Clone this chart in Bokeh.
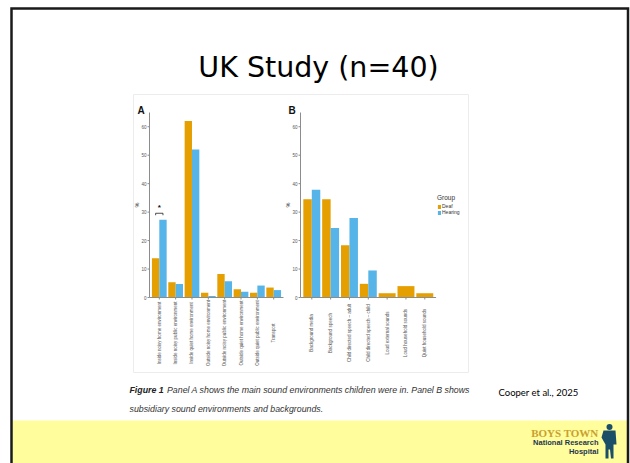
import math
from bokeh.plotting import figure
from bokeh.models import Range1d, Legend, LegendItem, ColumnDataSource
from bokeh.core.properties import value
from bokeh.embed import file_html
from bokeh.resources import INLINE

# ---------------- data ----------------
slide_title = "UK Study (n=40)"
groups = ["Deaf", "Hearing"]
group_colors = ["#E69F00", "#56B4E9"]

cats_a = ["Inside noisy home environment", "Inside noisy public environment",
          "Inside quiet home environment", "Outside noisy home environment",
          "Outside noisy public environment", "Outside quiet home environment",
          "Outside quiet public environment", "Transport"]
deaf_a = [13.8, 5.4, 62.0, 1.7, 8.3, 2.9, 1.7, 3.5]
hear_a = [27.3, 4.7, 52.0, 0.5, 5.7, 2.0, 4.2, 2.6]

cats_b = ["Background media", "Background speech", "Child directed speech \u2013 adult",
          "Child directed speech \u2013 child", "Loud external sounds",
          "Loud household sounds", "Quiet household sounds"]
deaf_b = [34.5, 34.5, 18.4, 4.8, 1.5, 4.0, 1.5]
hear_b = [37.9, 24.4, 27.9, 9.5, None, None, None]

y_ticks = [0, 10, 20, 30, 40, 50, 60]
y_max = 65
y_label = "%"

sig_index = 0          # category of panel A with the significance bracket
sig_y = 29.6
sig_label = "*"

caption_bold = "Figure 1"
caption_line1 = "Panel A shows the main sound environments children were in. Panel B shows"
caption_line2 = "subsidiary sound environments and backgrounds."
citation = "Cooper et al., 2025"

# ---------------- layout constants (pixels) ----------------
W, H = 630, 463
FONT = "Liberation Sans"
BORDER = "#1a1a1a"
YELLOW = "#FFFD9C"
AXIS = "#8c8c8c"
TICKTXT = "#555555"
PANEL_TOP, PANEL_BOTTOM = 112, 297
PANEL_A = (149, 283)
PANEL_B = (300, 435.6)
XLABEL_CENTER = 35.5   # px below the axis line

p = figure(width=W, height=H, x_range=Range1d(0, W), y_range=Range1d(H, 0),
           output_backend="svg", toolbar_location=None, x_axis_type=None,
           y_axis_type=None, min_border=0)
p.outline_line_color = None
p.background_fill_color = "white"
p.border_fill_color = "white"

# shared vertical scale of both panels
py_unit = (PANEL_BOTTOM - PANEL_TOP) / y_max
p.extra_y_ranges["val"] = Range1d(-(H - PANEL_BOTTOM) / py_unit, PANEL_BOTTOM / py_unit)

# slide background
p.quad(left=[12], right=[627], bottom=[463], top=[420], fill_color=YELLOW, line_color=None)
p.line([133, 468, 468, 133, 133], [94, 94, 372, 372, 94], line_color="#ececec", line_width=1)


def panel(name, cats, deaf, hear, frame):
    n = len(cats)
    lo, hi = 0.4, n + 0.6
    px_unit = (frame[1] - frame[0]) / (hi - lo)
    start = lo - frame[0] / px_unit
    p.extra_x_ranges[name] = Range1d(start, start + W / px_unit)
    kw = dict(x_range_name=name, y_range_name="val")

    xd, wd, td, xh, th = [], [], [], [], []
    for i, (d, h) in enumerate(zip(deaf, hear), start=1):
        if h is None:
            xd.append(i); wd.append(0.9); td.append(d)
        else:
            xd.append(i - 0.225); wd.append(0.45); td.append(d)
            xh.append(i + 0.225); th.append(h)
    rd = p.vbar(x="x", top="top", width="w", bottom=0,
                source=ColumnDataSource(dict(x=xd, top=td, w=wd)),
                fill_color=group_colors[0], line_color=None, **kw)
    rh = p.vbar(x=xh, top=th, width=0.45, bottom=0,
                fill_color=group_colors[1], line_color=None, **kw)

    # axis lines
    p.segment(x0=[lo, lo], y0=[0, 0], x1=[lo, hi], y1=[y_max, 0],
              line_color=AXIS, line_width=1, **kw)
    # y ticks + labels
    tlx = 2 / px_unit
    p.segment(x0=[lo - tlx] * len(y_ticks), y0=y_ticks, x1=[lo] * len(y_ticks), y1=y_ticks,
              line_color=AXIS, line_width=1, **kw)
    p.text(x=[lo - 3 / px_unit] * len(y_ticks), y=y_ticks, text=[str(t) for t in y_ticks],
           text_align="right", text_baseline="middle", text_font=value(FONT),
           text_font_size="4.5px", text_color=TICKTXT, **kw)
    p.text(x=[lo - 12.5 / px_unit], y=[y_max / 2], text=[y_label], angle=math.pi / 2,
           text_align="center", text_baseline="middle", text_font=value(FONT),
           text_font_size="5.5px", text_color="#333333", **kw)
    # x ticks + labels (centred, rotated)
    xs = list(range(1, n + 1))
    p.segment(x0=xs, y0=[0] * n, x1=xs, y1=[-2 / py_unit] * n,
              line_color=AXIS, line_width=1, **kw)
    p.text(x=xs, y=[-XLABEL_CENTER / py_unit] * n, text=cats, angle=math.pi / 2,
           text_align="center", text_baseline="middle", text_font=value(FONT),
           text_font_size="4.5px", text_color=TICKTXT, **kw)
    return rd, rh


panel("a", cats_a, deaf_a, hear_a, PANEL_A)
rdb, rhb = panel("b", cats_b, deaf_b, hear_b, PANEL_B)

# significance bracket on panel A
ci = sig_index + 1
p.line([ci - 0.225, ci - 0.225, ci + 0.225, ci + 0.225],
       [sig_y - 0.7, sig_y, sig_y, sig_y - 0.7], line_color="#222222", line_width=0.8,
       x_range_name="a", y_range_name="val")
p.text(x=[ci], y=[sig_y + 0.3], text=[sig_label], text_align="center",
       text_baseline="bottom", text_font=value(FONT), text_font_size="8px",
       text_font_style="bold", text_color="#111111", x_range_name="a", y_range_name="val")

# panel letters
p.text(x=[137, 288], y=[110, 110], text=["A", "B"], text_baseline="alphabetic",
       text_font=value(FONT), text_font_size="10px", text_font_style="bold",
       text_color="#111111")

# legend
legend = Legend(items=[LegendItem(label=groups[0], renderers=[rdb]),
                       LegendItem(label=groups[1], renderers=[rhb])],
                title="Group", location=(437, 248))
legend.title_text_font = FONT
legend.title_text_font_size = "6.5px"
legend.title_text_font_style = "normal"
legend.title_text_color = "#333333"
legend.title_standoff = 2
legend.label_text_font = FONT
legend.label_text_font_size = "5px"
legend.label_text_color = "#333333"
legend.glyph_width = 4
legend.glyph_height = 5
legend.label_height = 5
legend.label_standoff = 1
legend.spacing = 0
legend.padding = 0
legend.margin = 0
legend.border_line_color = None
legend.background_fill_alpha = 0
p.add_layout(legend)

# slide border
p.line([11, 11, 627.5, 627.5], [463, 8, 8, 463], line_color=BORDER, line_width=2.5,
       line_join="miter")

# title
p.text(x=[318], y=[67], text=[slide_title], text_align="center",
       text_baseline="middle", text_font=value("DejaVu Sans"), text_font_size="28.5px",
       text_color="#000000")

# caption
p.text(x=[129], y=[389.5], text=[caption_bold], text_baseline="middle",
       text_font=value(FONT), text_font_size="8.8px", text_font_style="bold italic",
       text_color="#222222")
p.text(x=[166.5], y=[389.5], text=[caption_line1], text_baseline="middle",
       text_font=value(FONT), text_font_size="8.8px", text_font_style="italic",
       text_color="#333333")
p.text(x=[129], y=[408.5], text=[caption_line2], text_baseline="middle",
       text_font=value(FONT), text_font_size="8.8px", text_font_style="italic",
       text_color="#333333")
p.text(x=[498], y=[391.5], text=[citation], text_baseline="middle",
       text_font=value("Lato"), text_font_size="9.5px", text_color="#000000")

# logo
p.text(x=[598], y=[432], text=["BOYS TOWN"], text_align="right", text_baseline="middle",
       text_font=value("Liberation Serif"), text_font_size="11px", text_font_style="bold",
       text_color="#C9A030")
p.text(x=[598], y=[441.5], text=["National Research"], text_align="right",
       text_baseline="middle", text_font=value(FONT), text_font_size="7.5px",
       text_font_style="bold", text_color="#1E3550")
p.text(x=[598], y=[451], text=["Hospital"], text_align="right", text_baseline="middle",
       text_font=value(FONT), text_font_size="7.5px", text_font_style="bold",
       text_color="#1E3550")
p.circle(x=[609], y=[426.5], radius=3, fill_color="#1B4F68", line_color=None)
p.patch([603, 615, 616, 613, 613, 610.5, 609.5, 608, 608, 605, 605, 601],
        [430, 430, 444, 444, 458, 458, 449, 449, 458, 458, 444, 437],
        fill_color="#1B4F68", line_color=None)

open("out.html", "w").write(file_html(p, INLINE))
